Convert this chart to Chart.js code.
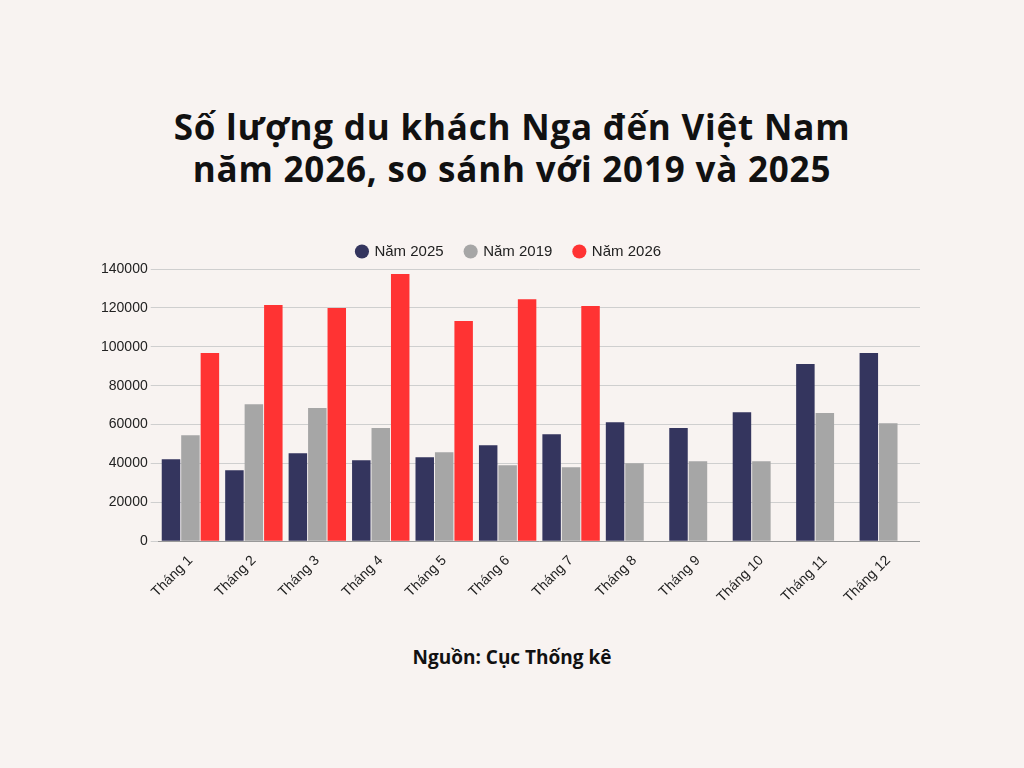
<!DOCTYPE html>
<html><head><meta charset="utf-8">
<script src="https://cdn.jsdelivr.net/npm/chart.js@4"></script>
<style>
html,body{margin:0;padding:0;background:#f8f3f1;width:1024px;height:768px;overflow:hidden;font-family:"Open Sans",sans-serif}
#title{position:absolute;top:106px;left:0;width:1024px;text-align:center;font-size:35px;font-weight:700;line-height:42px;color:#111;letter-spacing:0.8px}
#src{position:absolute;top:644px;left:0;width:1024px;text-align:center;font-size:19px;font-weight:700;color:#111}
#wrap{position:absolute;left:98px;top:222px;width:822px;height:387px}
</style></head><body>
<div id="title">Số lượng du khách Nga đến Việt Nam<br>năm 2026, so sánh với 2019 và 2025</div>
<div id="wrap"><canvas id="c"></canvas></div>
<div id="src">Nguồn: Cục Thống kê</div>
<script>
const categories=["Tháng 1","Tháng 2","Tháng 3","Tháng 4","Tháng 5","Tháng 6","Tháng 7","Tháng 8","Tháng 9","Tháng 10","Tháng 11","Tháng 12"];
const v2025=[42200,36500,45300,41700,43200,49400,55000,61200,58200,66400,91100,96800];
const v2019=[54500,70500,68500,58200,45800,39100,38100,40100,41200,41200,65900,60700];
const v2026=[96800,121500,120000,137400,113200,124500,121000,null,null,null,null,null];
new Chart(document.getElementById('c'),{type:'bar',
data:{labels:categories,datasets:[
{label:'Năm 2025',data:v2025,backgroundColor:'#34355e'},
{label:'Năm 2019',data:v2019,backgroundColor:'#a6a6a6'},
{label:'Năm 2026',data:v2026,backgroundColor:'#ff3333'}]},
options:{responsive:true,maintainAspectRatio:false,animation:false,
datasets:{bar:{categoryPercentage:0.92,barPercentage:0.95}},
plugins:{legend:{labels:{usePointStyle:true,pointStyle:'circle',boxWidth:10,boxHeight:10,padding:22,color:'#222',font:{family:'Liberation Sans',size:15}}},tooltip:{enabled:false}},
scales:{x:{grid:{display:false},border:{color:'#999'},ticks:{maxRotation:45,minRotation:45,color:'#222',font:{family:'Liberation Sans',size:14}}},
y:{min:0,max:140000,ticks:{stepSize:20000,color:'#222',font:{family:'Liberation Sans',size:14},callback:v=>String(v)},grid:{color:'#cfcfcf'},border:{display:false}}}}});
</script></body></html>
